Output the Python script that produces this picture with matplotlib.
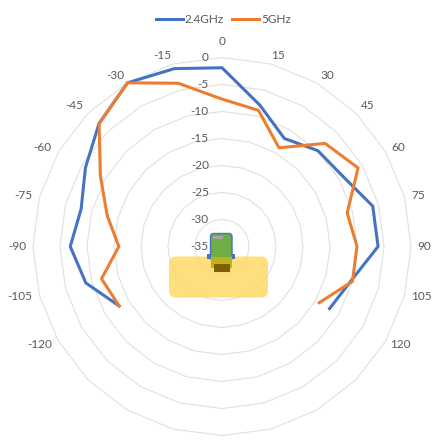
import numpy as np
import matplotlib
matplotlib.use("Agg")
import matplotlib.pyplot as plt
from matplotlib.patches import FancyBboxPatch, Rectangle

plt.rcParams['font.family'] = ['Lato', 'DejaVu Sans']

angles = [-120, -105, -90, -75, -60, -45, -30, -15, 0, 15, 30, 45, 60, 75, 90, 105, 120]
ghz24 = [-13, -8.9, -6.9, -8, -5.8, -2.8, 0, -0.9, -1.9, -7.9, -11.9, -9.9, -9.1, -6.1, -6.1, -10.3, -12]
ghz5 = [-13, -11.9, -15.9, -13, -9, -2.8, 0, -3.7, -7.7, -8.9, -13.9, -8, -5.9, -11, -10, -10, -14.2]
rings = [0, -5, -10, -15, -20, -25, -30]
ring_labels = [0, -5, -10, -15, -20, -25, -30, -35]

# сдвиг подписей углов в пикселях (x, y вниз)
nudge_x = [-4, -3, 1, 0, -1, -2, -4, -6, 0, 3, 2, 0, -2, -3, -4, 0, 0]
nudge_y = [-5, -3, 0, 2, 4, 5, 7, 8, 1, 8, 7, 5, 4, 2, 0, -3, -5]

W, H = 441, 445
cx, cy, R = 222, 246.5, 189
grey = '#595959'
px = 72 / 100

fig = plt.figure(figsize=(W / 100, H / 100), dpi=100)
ax = fig.add_axes([(cx - R) / W, (H - cy - R) / H, 2 * R / W, 2 * R / H], projection='polar')
ax.set_theta_zero_location('N')
ax.set_theta_direction(-1)
ax.set_rlim(-35, 0)
ax.grid(False)
ax.spines['polar'].set_visible(False)
ax.set_xticks([])
ax.set_yticks([])
ax.patch.set_visible(False)

# многоугольные кольца сетки
poly = np.radians(np.arange(0, 361, 15))
for r in rings:
    ax.plot(poly, [r] * len(poly), color='#e2e2e2', lw=0.85, zorder=1, clip_on=False)

th = np.radians(angles)
ax.plot(th, ghz24, color='#4472c4', lw=2.2, label='2.4GHz', zorder=5, clip_on=False)
ax.plot(th, ghz5, color='#ed7d31', lw=2.2, label='5GHz', zorder=6, clip_on=False)

for a, dx, dy in zip(angles, nudge_x, nudge_y):
    ax.annotate(str(a), (np.radians(a), 3.15), xytext=(dx * px, -dy * px), textcoords='offset points',
                color=grey, fontsize=8.5, ha='center', va='center', annotation_clip=False)

for v in ring_labels:
    ax.annotate(str(v), (0, v), xytext=(-9.5, 0), textcoords='offset points',
                color=grey, fontsize=8.5, ha='right', va='center', zorder=4)

fig.legend(loc='center', bbox_to_anchor=(223.5 / W, 1 - 19.5 / H), ncol=2, frameon=False,
           fontsize=8.5, labelcolor=grey, handlelength=2.29, handletextpad=0.15,
           columnspacing=0.7, borderpad=0)

# значок устройства, в пикселях картинки
ov = fig.add_axes([0, 0, 1, 1], zorder=3)
ov.set_xlim(0, W)
ov.set_ylim(H, 0)
ov.axis('off')
ov.add_patch(FancyBboxPatch((173, 260.5), 91, 33, boxstyle='round,pad=4,rounding_size=7',
                            fc='#ffd966', ec='none', alpha=0.85))
ov.add_patch(Rectangle((206.7, 254), 28.6, 4.5, fc='#4472c4', ec='none'))
ov.add_patch(FancyBboxPatch((212, 235), 18.5, 24, boxstyle='round,pad=1.5,rounding_size=3',
                            fc='#70ad47', ec='#4472c4', lw=1.0))
ov.add_patch(Rectangle((210.7, 257), 21, 11, fc='#bdb320', ec='none'))
ov.add_patch(Rectangle((213.7, 264), 16, 8, fc='#7f6000', ec='none'))
ov.add_patch(Rectangle((213.3, 236), 10, 3, fc='#a6a6a6', ec='none'))

fig.savefig('out.png', dpi=100)
